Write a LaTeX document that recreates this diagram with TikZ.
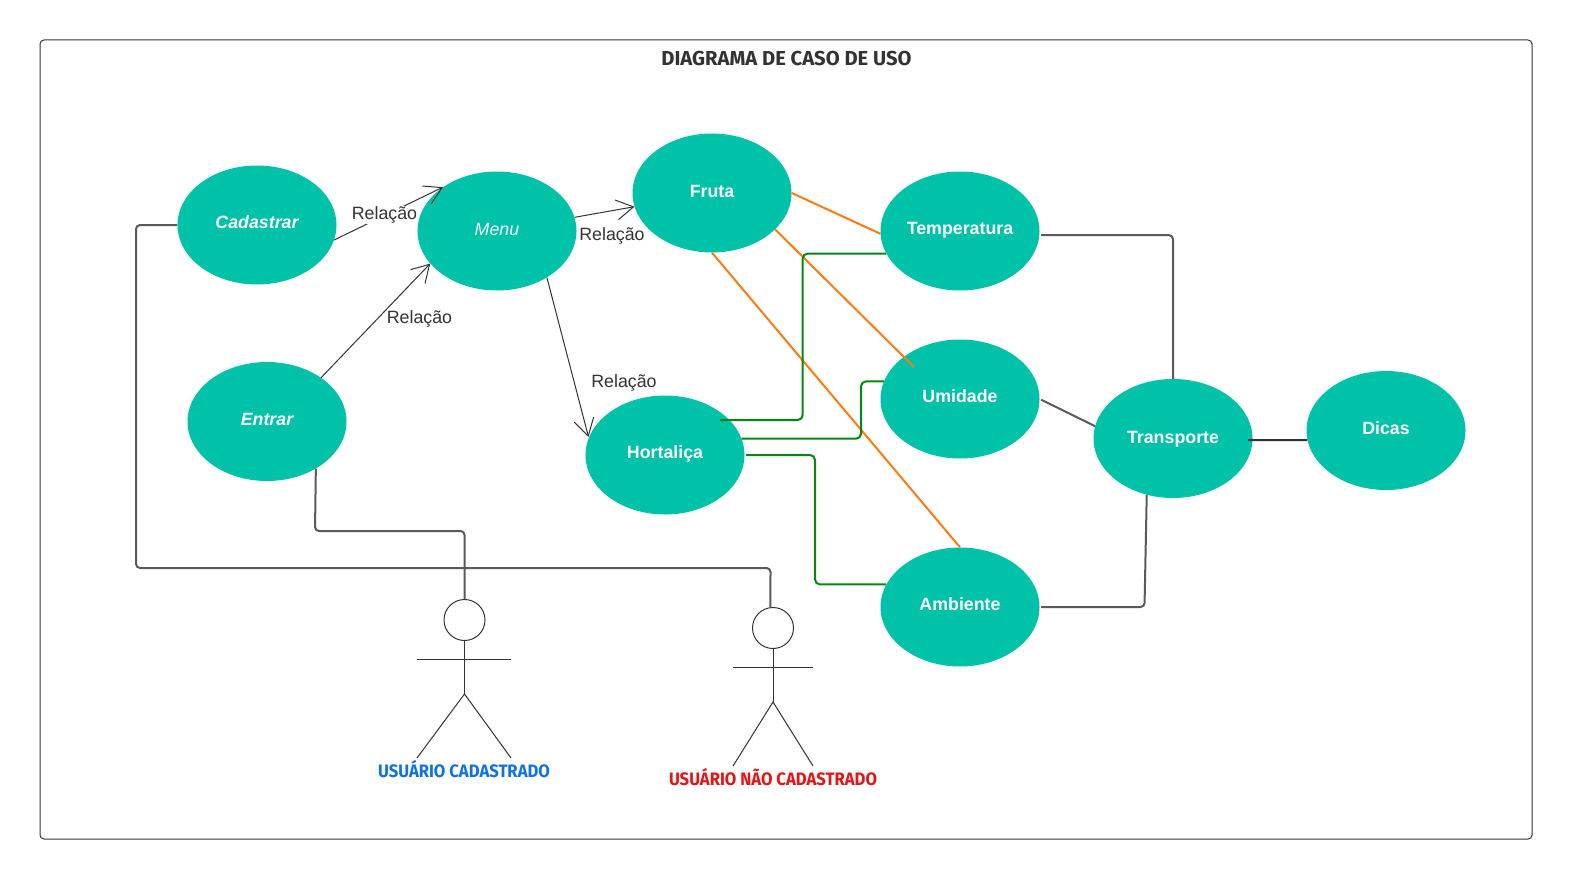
\documentclass[tikz,border=0pt]{standalone}
\usepackage{fontspec}
\setmainfont{Liberation Sans}
\newfontfamily\handfont{Fira Sans}
\newfontfamily\handfontn{Fira Sans}[FakeStretch=0.925]
\usetikzlibrary{arrows.meta,shapes.geometric}
\definecolor{teal1}{HTML}{00C2A8}
\definecolor{grey1}{HTML}{5A5A5A}
\definecolor{ink}{HTML}{333333}
\definecolor{orange1}{HTML}{FF7A0F}
\definecolor{green1}{HTML}{008A0E}
\definecolor{bluelabel}{HTML}{1071E5}
\definecolor{redlabel}{HTML}{E81313}
\newcommand\lift[2]{\raisebox{-#1pt}[0pt][0pt]{#2}}
\tikzset{
  usecase/.style={ellipse,fill=teal1,minimum width=159pt,minimum height=119pt,inner sep=0pt,text=white,font=\fontsize{17.8}{20}\selectfont\bfseries},
  relarrow/.style={draw=ink,line width=1pt,-{Straight Barb[length=17pt,width=20pt,line width=1pt]}},
  rel/.style={text=ink,font=\fontsize{17.8}{20}\selectfont,inner sep=1pt},
  elbow/.style={draw=grey1,line width=2pt,rounded corners=4pt},
  orangeline/.style={draw=orange1,line width=2pt},
  greenline/.style={draw=green1,line width=2pt,rounded corners=5pt},
  actorhead/.style={circle,draw=ink,line width=1pt,minimum size=41pt,inner sep=0pt},
  actorline/.style={draw=ink,line width=1pt},
  actorlabel/.style={font=\handfontn\fontsize{18}{20}\selectfont\bfseries,inner sep=0pt},
}
\begin{document}
\begin{tikzpicture}[x=1pt,y=-1pt]
\useasboundingbox (0,0) rectangle (1573,880);
\fill[white] (0,0) rectangle (1573,880);
\node[draw=ink,line width=1pt,rounded corners=4pt,minimum width=1492pt,minimum height=799pt,inner sep=0pt] (frame) at (786,439.5) {};
\node[font=\handfont\fontsize{20.2}{22}\selectfont\bfseries,text=ink,inner sep=0pt] (title) at (786.5,59) {DIAGRAMA DE CASO DE USO};

\node[usecase] (cad) at (257,225) {\lift{3.3}{\itshape Cadastrar}};
\node[usecase] (menu) at (497,231) {\lift{4.3}{\mdseries\itshape Menu}};
\node[usecase] (fruta) at (712,193) {\lift{4.3}{Fruta}};
\node[usecase] (temp) at (960,231) {\lift{3.5}{Temperatura}};
\node[usecase] (umi) at (960,399) {\lift{3.3}{Umidade}};
\node[usecase] (ent) at (267,421.5) {\lift{4.3}{\itshape Entrar}};
\node[usecase] (hort) at (665,455) {\lift{3.5}{Hortaliça}};
\node[usecase] (amb) at (960,607) {\lift{3.3}{Ambiente}};
\node[usecase] (trans) at (1173,438.5) {\lift{4.5}{Transporte}};
\node[usecase] (dicas) at (1386,430.5) {\lift{4.3}{Dicas}};

% actors
\node[actorhead] (h1) at (464.5,620) {};
\coordinate (a1l) at (417,659);
\coordinate (a1r) at (511,659);
\coordinate (a1hip) at (464.5,694);
\coordinate (a1ll) at (417,758);
\coordinate (a1lr) at (511,758);
\draw[actorline] (h1.south) -- (a1hip);
\draw[actorline] (a1l) -- (a1r);
\draw[actorline] (a1ll) -- (a1hip) -- (a1lr);
\node[actorlabel,text=bluelabel] (l1) at (464,769) {USUÁRIO CADASTRADO};

\node[actorhead] (h2) at (773,628) {};
\coordinate (a2l) at (733,667);
\coordinate (a2r) at (813,667);
\coordinate (a2hip) at (773,702);
\coordinate (a2ll) at (733,766);
\coordinate (a2lr) at (813,766);
\draw[actorline] (h2.south) -- (a2hip);
\draw[actorline] (a2l) -- (a2r);
\draw[actorline] (a2ll) -- (a2hip) -- (a2lr);
\node[actorlabel,text=redlabel] (l2) at (773,777) {USUÁRIO NÃO CADASTRADO};

% arrows
\draw[relarrow] (cad.-11.7) -- (menu.141.6);
\draw[relarrow] (menu.10.1) -- (fruta.190);
\draw[relarrow] (ent.39.4) -- (menu.206.9);
\draw[relarrow] (menu.-43.5) -- ([shift={(-76.5,-18)}]hort.center);

% grey elbows
\draw[elbow] (cad.west) -- (136,225) -- (136,568) -- (770.5,568) -- (h2.97);
\draw[elbow] (ent.-44.1) -- (315,531) -- (464.5,531) -- (h1.north);
\draw[elbow,shorten <=1.5pt] (temp.-3) -| (trans.north);
\draw[elbow,shorten <=1.5pt] (umi.east) -- (trans.171);
\draw[elbow,shorten <=1.5pt] (amb.east) -- (1144.5,607) -- (trans.245.2);
\draw[draw=ink,line width=2pt] ([shift={(75,1.5)}]trans.center) -- (dicas.187);

% orange
\draw[orangeline] (fruta.east) -- (temp.182);
\draw[orangeline] (fruta.-30) -- ([shift={(-46,-32)}]umi.center);
\draw[orangeline] (fruta.south) -- (amb.north);

% green
\draw[greenline] ([shift={(55,-35)}]hort.center) -| (802.7,300) |- (temp.197.3);
\draw[greenline] (hort.12.4) -| (861,410) |- (umi.167.5);
\draw[greenline,shorten <=1.5pt] (hort.east) -| (815,500) |- (amb.163.7);

% labels
\node[rel,fill=white] (r1) at (384.5,215) {Relação};
\node[rel] (r2) at (612,236) {Relação};
\node[rel] (r3) at (419.5,319) {Relação};
\node[rel] (r4) at (624,383) {Relação};
\end{tikzpicture}
\end{document}
